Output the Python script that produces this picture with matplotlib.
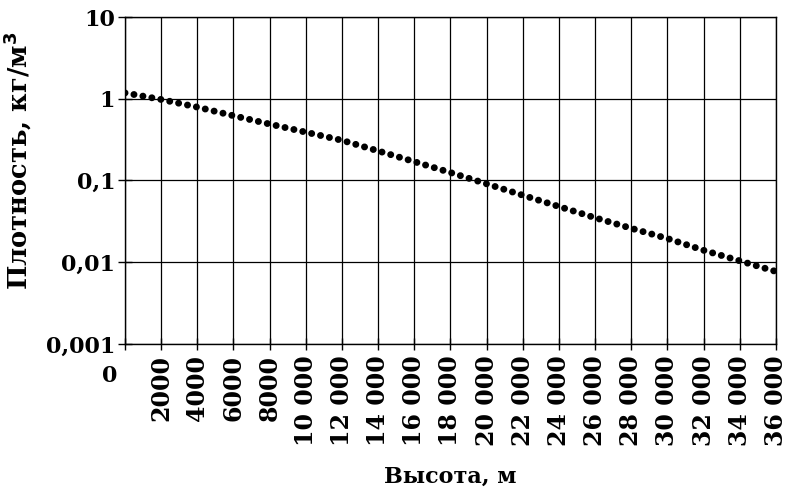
import matplotlib
matplotlib.use('Agg')
from matplotlib import pyplot as plt

height_m = [0, 2000, 4000, 6000, 8000, 10000, 12000, 14000, 16000, 18000,
            20000, 22000, 24000, 26000, 28000, 30000, 32000, 34000, 36000]
density = [1.18, 0.98, 0.79, 0.62, 0.49, 0.39, 0.31, 0.23, 0.17, 0.125,
           0.091, 0.066, 0.048, 0.035, 0.026, 0.0195, 0.014, 0.0104, 0.0077]
x_ticks = list(range(0, 36001, 2000))
x_labels = ['', '2000', '4000', '6000', '8000'] + \
    ['%d 000' % (v // 1000) for v in x_ticks[5:]]
y_ticks = [0.001, 0.01, 0.1, 1, 10]
y_labels = ['0,001', '0,01', '0,1', '1', '10']

plt.rcParams['font.family'] = ['DejaVu Serif']
plt.rcParams['font.weight'] = 'bold'

fig = plt.figure(figsize=(7.89, 4.9), dpi=100)
ax = fig.add_axes([0.1584, 0.298, 0.8251, 0.6673])

ax.plot(height_m, density, color='black', lw=5,
        linestyle=(0, (0.01, 1.3)), dash_capstyle='round', zorder=3)

ax.set_yscale('log')
ax.set_xlim(0, 36000)
ax.set_ylim(0.001, 10)
ax.set_xticks(x_ticks)
ax.set_xticklabels(x_labels, rotation=90, fontsize=17, fontweight='bold',
                   va='top', ha='center', rotation_mode='default')
ax.set_yticks(y_ticks)
ax.set_yticklabels(y_labels, fontsize=16, fontweight='bold')
ax.minorticks_off()
ax.tick_params(axis='x', direction='inout', length=8, width=1, pad=4)
ax.tick_params(axis='y', direction='inout', length=10, width=1, pad=2)
ax.grid(True, color='black', lw=0.9)
for s in ax.spines.values():
    s.set_linewidth(1)

ax.text(-0.011, -0.064, '0', transform=ax.transAxes, ha='right', va='top',
        fontsize=16, fontweight='bold')

ax.set_ylabel('Плотность, кг/м$^\\mathbf{3}$', fontsize=18.5, fontweight='bold')
ax.yaxis.set_label_coords(-0.14, 0.56)
ax.set_xlabel('Высота, м', fontsize=16, fontweight='bold', labelpad=14)

fig.savefig('out.png', dpi=100)
